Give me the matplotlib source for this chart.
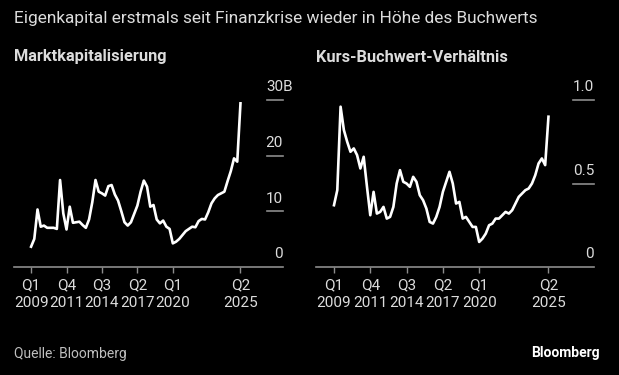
import numpy as np
import matplotlib.pyplot as plt

# quarterly, Q1 2009 .. Q2 2025
quarters = np.arange(66)
market_cap = [3.6, 5.0, 10.3, 7.2, 7.4, 7.0, 7.0, 7.0, 6.8, 15.6,
              9.6, 6.7, 10.8, 7.9, 8.0, 8.1, 7.5, 7.0, 8.5, 11.6,
              15.6, 13.5, 13.2, 12.8, 14.5, 14.7, 13.0, 11.9, 10.0, 8.0,
              7.4, 8.0, 9.5, 11.0, 13.5, 15.5, 14.4, 10.8, 11.1, 8.5,
              7.8, 8.3, 7.2, 6.8, 4.2, 4.5, 5.0, 5.7, 6.4, 6.8,
              7.2, 7.1, 8.2, 8.6, 8.5, 9.8, 11.4, 12.3, 12.9, 13.2,
              13.5, 15.4, 17.2, 19.5, 18.9, 29.4]
pb_ratio = [0.37, 0.46, 0.96, 0.82, 0.75, 0.69, 0.71, 0.67, 0.59, 0.66,
            0.48, 0.31, 0.45, 0.32, 0.33, 0.36, 0.29, 0.30, 0.36, 0.50,
            0.58, 0.51, 0.50, 0.48, 0.54, 0.51, 0.43, 0.40, 0.35, 0.27,
            0.26, 0.30, 0.36, 0.45, 0.51, 0.57, 0.50, 0.38, 0.39, 0.29,
            0.30, 0.27, 0.24, 0.24, 0.15, 0.17, 0.20, 0.25, 0.26, 0.29,
            0.29, 0.31, 0.33, 0.32, 0.34, 0.38, 0.42, 0.44, 0.46, 0.47,
            0.50, 0.55, 0.62, 0.65, 0.61, 0.90]

tick_pos = [0, 11, 22, 33, 44, 65]
tick_labels = ["Q1\n2009", "Q4\n2011", "Q3\n2014", "Q2\n2017", "Q1\n2020", "Q2\n2025"]

W, H = 619, 375
bg = "black"
grey = "#8c8c8c"
txt = "#dcdcdc"
plt.rcParams['font.family'] = ['Roboto', 'DejaVu Sans']

fig = plt.figure(figsize=(W / 100, H / 100), dpi=100, facecolor=bg)


def panel(left, right, y0, y1, xlim, data, ylim, yt, ylabels, tick_x0):
    ax = fig.add_axes([left / W, (H - y0) / H, (right - left) / W, (y0 - y1) / H])
    ax.set_facecolor(bg)
    ax.plot(quarters, data, color="white", lw=1.9, solid_joinstyle="round", clip_on=False)
    ax.set_xlim(*xlim)
    ax.set_ylim(*ylim)
    for s in ["top", "right", "left"]:
        ax.spines[s].set_visible(False)
    ax.spines["bottom"].set_color(grey)
    ax.spines["bottom"].set_linewidth(1.2)
    ax.set_xticks(tick_pos)
    ax.set_xticklabels(tick_labels, linespacing=1.32)
    ax.tick_params(axis="x", colors=grey, length=4, width=1, pad=4.5,
                   labelsize=11, labelcolor=txt)
    ax.set_yticks([])
    for v, lab in zip(yt, ylabels):
        if v != 0:
            ax.plot([tick_x0, xlim[1]], [v, v], color=grey, lw=1.2, clip_on=False)
        if lab.endswith("B"):
            x, ha = tick_x0, "left"
        else:
            x, ha = xlim[1], "right"
        ax.annotate(lab, xy=(x, v), xytext=(0, 4), textcoords="offset points",
                    ha=ha, va="bottom", color=txt, fontsize=11,
                    annotation_clip=False)
    return ax


panel(14, 283, 266.7, 100, (-5.3, 78.2), market_cap, (0, 30),
      [0, 10, 20, 30], ["0", "10", "20", "30B"], 73.1)
panel(316, 594, 267, 100, (-5.45, 78.8), pb_ratio, (0, 1.0),
      [0, 0.5, 1.0], ["0", "0.5", "1.0"], 72.4)

fig.text(14 / W, 1 - 18 / H, "Eigenkapital erstmals seit Finanzkrise wieder in Höhe des Buchwerts",
         color=txt, fontsize=12.4, va="center", ha="left")
fig.text(14 / W, 1 - 57 / H, "Marktkapitalisierung", color=txt, fontsize=11.8,
         fontweight="bold", va="center", ha="left")
fig.text(316 / W, 1 - 57 / H, "Kurs-Buchwert-Verhältnis", color=txt, fontsize=11.8,
         fontweight="bold", va="center", ha="left")
fig.text(14 / W, 1 - 354 / H, "Quelle: Bloomberg", color="#bfbfbf", fontsize=10,
         va="center", ha="left")
fig.text(600 / W, 1 - 353 / H, "Bloomberg", color="white", fontsize=10,
         fontweight="bold", va="center", ha="right")

fig.savefig("out.png", dpi=100, facecolor=bg)
